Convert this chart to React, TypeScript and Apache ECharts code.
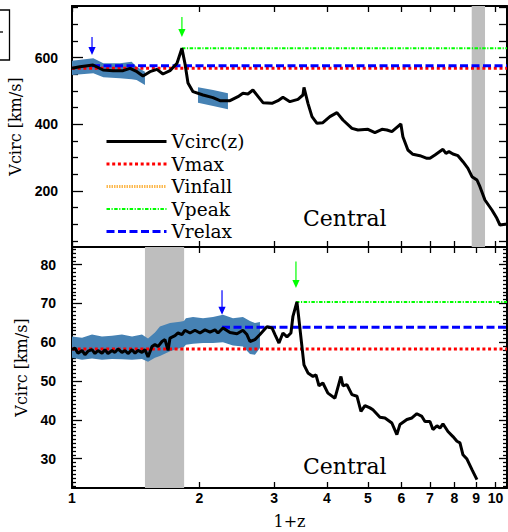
import React, { useEffect, useRef } from 'react';
import * as echarts from 'echarts';

// ---------- data (x values are 1+z) ----------
const xTickValues = [1, 2, 3, 4, 5, 6, 7, 8, 9, 10];
const xMaxValue = 10.65;

// Top panel
const topX = [1.000, 1.044, 1.121, 1.184, 1.250, 1.320, 1.371, 1.424, 1.471, 1.528, 1.587, 1.640, 1.704, 1.770, 1.818, 1.848, 1.879, 1.931, 2.039, 2.152, 2.236, 2.361, 2.466, 2.533, 2.603, 2.675, 2.749, 2.825, 2.967, 3.065, 3.149, 3.271, 3.417, 3.511, 3.531, 3.608, 3.688, 3.789, 3.913, 4.065, 4.224, 4.364, 4.583, 4.736, 5.000, 5.193, 5.395, 5.544, 5.694, 5.851, 5.980, 6.046, 6.213, 6.384, 6.632, 6.891, 7.004, 7.197, 7.517, 7.641, 7.767, 7.938, 8.157, 8.382, 8.613, 8.803, 9.045, 9.193, 9.446, 9.812, 10.08, 10.25, 10.65];
const topVcirc = [568, 573, 578, 563, 561, 561, 568, 558, 545, 558, 565, 551, 561, 583, 628, 583, 524, 498, 488, 480, 471, 471, 483, 493, 491, 503, 484, 465, 463, 471, 481, 468, 475, 488, 511, 463, 423, 403, 405, 423, 435, 413, 388, 383, 385, 375, 385, 383, 378, 391, 401, 363, 323, 310, 306, 298, 298, 308, 325, 313, 318, 311, 306, 288, 268, 243, 233, 213, 173, 143, 118, 98, 101];
const topBand1X = [1.000, 1.123, 1.186, 1.298, 1.383, 1.421, 1.487];
const topBand1Hi = [591, 598, 583, 583, 588, 573, 558];
const topBand1Lo = [548, 553, 541, 538, 535, 533, 518];
const topBand2X = [1.984, 2.154, 2.335];
const topBand2Hi = [511, 503, 493];
const topBand2Lo = [465, 455, 445];
const topVmax = 568;
const topVrelax = 576;
const topVpeak = 628;
const topVrelaxStart = 1.115;
const topVpeakStart = 1.818;
const topShade = [8.79, 9.45];
const topArrows = [
  { x: 1.115, from: 662, to: 608, color: '#0000ff' },
  { x: 1.818, from: 722, to: 662, color: '#00ff00' },
];
const topYMin = 32;
const topYMax = 755;
const topYLabels = [200, 400, 600];
const topYMinor = [50, 100, 150, 250, 300, 350, 450, 500, 550, 650, 700, 750];
const topYAll = [50, 100, 150, 200, 250, 300, 350, 400, 450, 500, 550, 600, 650, 700, 750];

// Bottom panel
const botX = [1.000, 1.016, 1.033, 1.056, 1.073, 1.091, 1.115, 1.133, 1.152, 1.177, 1.196, 1.216, 1.243, 1.263, 1.284, 1.312, 1.334, 1.356, 1.386, 1.409, 1.432, 1.463, 1.487, 1.512, 1.545, 1.570, 1.596, 1.631, 1.658, 1.686, 1.704, 1.751, 1.780, 1.818, 1.848, 1.900, 1.952, 2.006, 2.061, 2.118, 2.176, 2.212, 2.273, 2.361, 2.453, 2.533, 2.589, 2.632, 2.704, 2.779, 2.886, 2.967, 3.016, 3.082, 3.149, 3.219, 3.289, 3.325, 3.398, 3.436, 3.492, 3.531, 3.608, 3.708, 3.769, 3.831, 3.913, 4.021, 4.178, 4.317, 4.364, 4.460, 4.583, 4.710, 4.813, 4.919, 5.055, 5.137, 5.337, 5.484, 5.694, 5.851, 5.948, 6.179, 6.350, 6.524, 6.704, 6.817, 7.004, 7.120, 7.276, 7.396, 7.517, 7.725, 7.938, 8.113, 8.247, 8.382, 8.566, 8.803, 9.045];
const botVcirc = [58.1, 58.5, 57.2, 57.9, 56.8, 57.7, 58.1, 57.1, 57.9, 57.2, 58.1, 57.1, 57.9, 57.4, 58.3, 57.4, 57.9, 57.1, 58.1, 57.2, 57.9, 57.4, 58.1, 56.2, 58.9, 59.4, 58.9, 60.2, 60.7, 57.9, 61.1, 61.7, 62.4, 62.0, 63.1, 62.4, 63.1, 62.4, 63.2, 62.6, 63.2, 62.4, 63.7, 62.5, 62.2, 63.1, 62.0, 60.2, 60.7, 62.0, 64.0, 63.7, 62.0, 59.8, 62.4, 61.4, 62.4, 66.7, 70.4, 65.8, 58.9, 54.2, 52.1, 51.2, 51.6, 48.8, 49.5, 46.9, 45.6, 51.2, 48.8, 49.1, 46.5, 46.1, 42.2, 43.7, 43.1, 42.6, 40.7, 40.5, 39.2, 36.2, 38.8, 40.1, 40.5, 41.6, 40.9, 39.6, 39.6, 37.5, 38.5, 37.9, 39.0, 37.0, 35.7, 34.5, 34.1, 31.0, 29.9, 27.2, 24.6];
const botBandX = [1.000, 1.056, 1.115, 1.177, 1.243, 1.312, 1.386, 1.463, 1.512, 1.570, 1.613, 1.704, 1.799, 1.838, 1.858, 1.931, 2.039, 2.152, 2.273, 2.400, 2.533, 2.632, 2.704, 2.779];
const botBandHi = [61.5, 61.2, 62.0, 61.5, 61.7, 62.0, 61.5, 62.0, 61.0, 62.5, 64.1, 65.0, 65.3, 65.5, 66.2, 66.5, 66.2, 66.5, 67.1, 66.2, 66.5, 65.5, 65.0, 65.2];
const botBandLo = [56.0, 55.5, 55.8, 55.5, 55.7, 55.6, 55.5, 55.7, 55.0, 56.0, 56.5, 57.7, 58.5, 58.8, 59.4, 59.6, 59.8, 59.8, 60.0, 59.2, 58.9, 57.0, 56.8, 58.5];
const botVmax = 58.3;
const botVrelax = 63.9;
const botVpeak = 70.4;
const botVrelaxStart = 2.261;
const botVpeakStart = 3.38;
const botShade = [1.487, 1.84];
const botArrows = [
  { x: 2.261, from: 73.4, to: 67.1, color: '#0000ff' },
  { x: 3.38, from: 80.85, to: 74.0, color: '#00ff00' },
];
const botYMin = 22.45;
const botYMax = 84.56;
const botYLabels = [30, 40, 50, 60, 70, 80];
const botYMinor = [23, 24, 25, 26, 27, 28, 29, 31, 32, 33, 34, 35, 36, 37, 38, 39, 41, 42, 43, 44, 45, 46, 47, 48, 49, 51, 52, 53, 54, 55, 56, 57, 58, 59, 61, 62, 63, 64, 65, 66, 67, 68, 69, 71, 72, 73, 74, 75, 76, 77, 78, 79, 81, 82, 83, 84];

const legendNames = ['Vcirc(z)', 'Vmax', 'Vinfall', 'Vpeak', 'Vrelax'];

// ---------- styles ----------
const lg = (v: number) => Math.log10(v);
const XMAX = lg(xMaxValue);
const BLACK = '#000000';
const RED = '#ff0000';
const BLUE = '#0000ff';
const GREEN = '#00ff00';
const ORANGE = '#fcb94f';
const BAND = '#4682b4';
const SHADE = '#bebebe';
const SERIF = 'DejaVu Serif';
const SANS = 'Liberation Sans';

const DOT = [3, 2.7];
const DASH = [8, 3.5];
const DASHDOT = [3.5, 1.5, 1.2, 1.5];

function lineSeries(name: string, xs: number[], ys: number[], color: string, width: number, type: any, xi: number, yi: number, z: number) {
  return {
    type: 'line', name, xAxisIndex: xi, yAxisIndex: yi,
    data: xs.map((x, i) => [lg(x), ys[i]]),
    showSymbol: false, symbol: 'none', silent: true, z,
    lineStyle: { color, width, type },
    itemStyle: { color },
  };
}

function hLine(name: string, start: number, v: number, color: string, width: number, type: any, xi: number, yi: number) {
  return lineSeries(name, [start, xMaxValue], [v, v], color, width, type, xi, yi, 3);
}

function shadeSeries(range: number[], xi: number, yi: number) {
  return {
    type: 'custom', xAxisIndex: xi, yAxisIndex: yi, silent: true, z: 1,
    data: [[lg(range[0]), lg(range[1])]],
    renderItem: (params: any, api: any) => {
      const cs = params.coordSys;
      const a = api.coord([api.value(0), 0]);
      const b = api.coord([api.value(1), 0]);
      return { type: 'rect', shape: { x: a[0], y: cs.y, width: b[0] - a[0], height: cs.height }, style: { fill: SHADE } };
    },
  };
}

function bandSeries(segs: { x: number[]; hi: number[]; lo: number[] }[], xi: number, yi: number) {
  return {
    type: 'custom', xAxisIndex: xi, yAxisIndex: yi, silent: true, z: 2,
    data: segs.map((s) => [lg(s.x[0]), s.hi[0]]),
    renderItem: (params: any, api: any) => {
      const s = segs[params.dataIndex];
      const pts: number[][] = [];
      s.x.forEach((x, i) => pts.push(api.coord([lg(x), s.hi[i]])));
      for (let i = s.x.length - 1; i >= 0; i--) pts.push(api.coord([lg(s.x[i]), s.lo[i]]));
      return { type: 'polygon', shape: { points: pts }, style: { fill: BAND } };
    },
  };
}

function arrowSeries(arrows: { x: number; from: number; to: number; color: string }[], xi: number, yi: number) {
  return {
    type: 'custom', xAxisIndex: xi, yAxisIndex: yi, silent: true, z: 6,
    data: arrows.map((a) => [lg(a.x), a.from, a.to]),
    renderItem: (params: any, api: any) => {
      const a = arrows[params.dataIndex];
      const top = api.coord([api.value(0), api.value(1)]);
      const tip = api.coord([api.value(0), api.value(2)]);
      const hh = 8, hw = 3.6;
      return {
        type: 'group',
        children: [
          { type: 'line', shape: { x1: top[0], y1: top[1], x2: tip[0], y2: tip[1] - hh + 1 }, style: { stroke: a.color, lineWidth: 1.2 } },
          { type: 'polygon', shape: { points: [[tip[0] - hw, tip[1] - hh], [tip[0] + hw, tip[1] - hh], [tip[0], tip[1]]] }, style: { fill: a.color } },
        ],
      };
    },
  };
}

const axisLine = { show: true, onZero: false, lineStyle: { color: BLACK, width: 2 } };
const tickLine = { color: BLACK, width: 1.3 };

function xAxis(grid: number, position: string, withLabels: boolean) {
  const ax: any = {
    type: 'value', gridIndex: grid, position, min: 0, max: XMAX,
    axisLine,
    axisTick: { show: true, inside: true, length: 6, customValues: xTickValues.map(lg), lineStyle: tickLine },
    axisLabel: { show: false },
    splitLine: { show: false },
  };
  if (withLabels) {
    ax.axisLabel = {
      show: true, customValues: xTickValues.map(lg),
      formatter: (v: number) => String(Math.round(Math.pow(10, v))),
      margin: 3, color: BLACK, fontFamily: SANS, fontWeight: 'bold', fontSize: 14,
    };
    ax.name = '1+z';
    ax.nameLocation = 'middle';
    ax.nameGap = 25;
    ax.nameTextStyle = { fontFamily: SERIF, fontSize: 16, color: BLACK };
  }
  return ax;
}

function yAxis(grid: number, position: string, min: number, max: number, ticks: number[], len: number, showLine: boolean, extra: any = {}) {
  return {
    type: 'value', gridIndex: grid, position, min, max,
    axisLine: showLine ? axisLine : { show: false, onZero: false },
    axisTick: { show: true, inside: true, length: len, customValues: ticks, lineStyle: tickLine },
    axisLabel: { show: false },
    splitLine: { show: false },
    ...extra,
  };
}

const yNameStyle = { fontFamily: SERIF, fontSize: 16, color: BLACK };
const yLabelStyle = (labels: number[], margin: number) => ({
  show: true, customValues: labels, margin, color: BLACK, fontFamily: SANS, fontWeight: 'bold', fontSize: 14,
});

const option: any = {
  animation: false,
  backgroundColor: '#ffffff',
  textStyle: { fontFamily: SERIF, color: BLACK },
  grid: [
    { left: 72, right: 1, top: 6, height: 241, outerBoundsMode: 'none', containLabel: false },
    { left: 72, right: 1, top: 247, height: 241, outerBoundsMode: 'none', containLabel: false },
  ],
  xAxis: [
    xAxis(0, 'bottom', false),
    xAxis(0, 'top', false),
    xAxis(1, 'bottom', true),
    xAxis(1, 'top', false),
  ],
  yAxis: [
    yAxis(0, 'left', topYMin, topYMax, topYLabels, 11, true, {
      axisLabel: yLabelStyle(topYLabels, 14),
      name: 'Vcirc [km/s]', nameLocation: 'middle', nameGap: 48, nameTextStyle: yNameStyle,
    }),
    yAxis(0, 'left', topYMin, topYMax, topYMinor, 6, false),
    yAxis(0, 'right', topYMin, topYMax, topYAll, 8, true),
    yAxis(1, 'left', botYMin, botYMax, botYLabels, 10, true, {
      axisLabel: yLabelStyle(botYLabels, 16),
      name: 'Vcirc [km/s]', nameLocation: 'middle', nameGap: 38, nameTextStyle: yNameStyle,
    }),
    yAxis(1, 'left', botYMin, botYMax, botYMinor, 4, false),
    yAxis(1, 'right', botYMin, botYMax, botYLabels, 8, true),
    yAxis(1, 'right', botYMin, botYMax, botYMinor, 4, false),
  ],
  legend: {
    data: [
      { name: legendNames[0] },
      { name: legendNames[1] },
      { name: legendNames[2] },
      { name: legendNames[3], lineStyle: { width: 2 } },
      { name: legendNames[4] },
    ],
    orient: 'vertical', left: 105, top: 132, padding: 0,
    itemWidth: 60, itemHeight: 3, itemGap: 3.5,
    selectedMode: false,
    itemStyle: { opacity: 0 },
    lineStyle: { width: 3 },
    textStyle: { fontFamily: SERIF, fontSize: 18.5, color: BLACK },
  },
  graphic: [
    { type: 'polyline', shape: { points: [[0, 10], [9.5, 10], [9.5, 60], [0, 60]] }, style: { stroke: BLACK, lineWidth: 1.3, fill: 'none' } },
    { type: 'line', shape: { x1: 0, y1: 32, x2: 3, y2: 32 }, style: { stroke: BLACK, lineWidth: 1.3 } },
    { type: 'text', x: 303, y: 218, style: { text: 'Central', font: `22px "${SERIF}"`, fill: BLACK, align: 'left', verticalAlign: 'middle' } },
    { type: 'text', x: 303, y: 466, style: { text: 'Central', font: `22px "${SERIF}"`, fill: BLACK, align: 'left', verticalAlign: 'middle' } },
  ],
  series: [
    // top panel
    shadeSeries(topShade, 0, 0),
    bandSeries([
      { x: topBand1X, hi: topBand1Hi, lo: topBand1Lo },
      { x: topBand2X, hi: topBand2Hi, lo: topBand2Lo },
    ], 0, 0),
    hLine('Vmax', 1, topVmax, RED, 3, DOT, 0, 0),
    { type: 'line', name: 'Vinfall', xAxisIndex: 0, yAxisIndex: 0, data: [], symbol: 'none', lineStyle: { color: ORANGE, width: 3, type: [1.5, 1] }, itemStyle: { color: ORANGE } },
    hLine('Vpeak', topVpeakStart, topVpeak, GREEN, 2, DASHDOT, 0, 0),
    hLine('Vrelax', topVrelaxStart, topVrelax, BLUE, 3, DASH, 0, 0),
    lineSeries('Vcirc(z)', topX, topVcirc, BLACK, 3, 'solid', 0, 0, 4),
    arrowSeries(topArrows, 0, 0),
    // bottom panel
    shadeSeries(botShade, 2, 3),
    bandSeries([{ x: botBandX, hi: botBandHi, lo: botBandLo }], 2, 3),
    hLine('Vmax (bottom)', 1, botVmax, RED, 3, DOT, 2, 3),
    hLine('Vpeak (bottom)', botVpeakStart, botVpeak, GREEN, 2, DASHDOT, 2, 3),
    hLine('Vrelax (bottom)', botVrelaxStart, botVrelax, BLUE, 3, DASH, 2, 3),
    lineSeries('Vcirc(z) (bottom)', botX, botVcirc, BLACK, 3, 'solid', 2, 3, 4),
    arrowSeries(botArrows, 2, 3),
  ],
};

export default function App() {
  const ref = useRef<HTMLDivElement>(null);
  useEffect(() => {
    if (!ref.current) return;
    const chart = echarts.init(ref.current, null, { renderer: 'svg' });
    chart.setOption(option);
    return () => chart.dispose();
  }, []);
  return (
    <div
      ref={ref}
      style={{ position: 'absolute', left: 0, top: 0, width: 508, height: 532, background: '#ffffff' }}
    />
  );
}
